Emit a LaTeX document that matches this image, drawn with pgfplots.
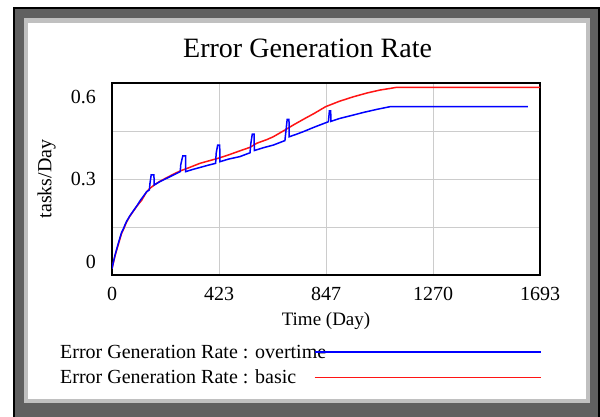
\documentclass[border=0pt]{standalone}
\usepackage{fontspec}
\setmainfont{Liberation Serif}
\usepackage{pgfplots}
\pgfplotsset{compat=1.18}

\definecolor{framedark}{RGB}{96,96,96}
\definecolor{framelight}{RGB}{192,192,192}
\definecolor{vblue}{RGB}{0,0,255}
\definecolor{vred}{RGB}{255,20,20}

% Error Generation Rate, basic run
\pgfplotstableread{
day rate
0 0.02
6 0.04
12 0.06
20 0.082
25 0.095
32 0.114
38 0.13
45 0.142
58 0.166
70 0.183
84 0.199
100 0.217
117 0.233
137 0.26
150 0.271
170 0.283
190 0.293
216 0.304
243 0.315
269 0.325
300 0.334
348 0.349
380 0.356
421 0.365
460 0.375
506 0.388
546 0.399
572 0.4115
612 0.423
638 0.432
684 0.453
720 0.47
757 0.4865
800 0.505
845 0.526
900 0.543
955 0.557
1010 0.569
1060 0.578
1100 0.583
1126 0.5865
1693 0.5865
}\basic

% Error Generation Rate, overtime run
\pgfplotstableread{
day rate
0 0.02
6 0.042
12 0.062
20 0.085
25 0.099
32 0.118
38 0.133
45 0.144
51 0.156
58 0.168
70 0.184
84 0.2
100 0.218
111 0.232
137 0.26
148 0.266
150 0.285
155 0.3125
166 0.3125
166.5 0.281
190 0.292
216 0.302
243 0.3125
270 0.323
272 0.345
280 0.372
291 0.372
291.5 0.323
320 0.330
348 0.336
380 0.343
410 0.349
412 0.38
418 0.406
426 0.406
427 0.354
460 0.362
506 0.370
546 0.382
549 0.41
555 0.4406
562 0.4406
563 0.389
600 0.398
638 0.406
684 0.42
688 0.45
693 0.4865
700 0.4865
701 0.432
730 0.44
757 0.448
800 0.462
856 0.479
860 0.513
865 0.513
866 0.48
900 0.489
955 0.500
1000 0.509
1050 0.518
1100 0.526
1645 0.526
}\overtime

\begin{document}
\begin{tikzpicture}
\path[use as bounding box] (0pt,0pt) rectangle (600pt,417pt);
% window frame
\fill[black] (12.5pt,0pt) rectangle (600pt,410.3pt);
\fill[framedark] (15pt,0pt) rectangle (598pt,408pt);
\fill[framelight] (24pt,13.7pt) rectangle (590pt,398.7pt);
\fill[white] (27.5pt,18pt) rectangle (586pt,393.7pt);

\begin{axis}[
    at={(112pt,142pt)}, anchor=south west,
    scale only axis,
    width=428pt, height=192pt,
    xmin=0, xmax=1693,
    ymin=0, ymax=0.6,
    xtick={0,423.25,846.5,1269.75,1693},
    xticklabels={0,423,847,1270,1693},
    ytick={0,0.15,0.3,0.45,0.6},
    yticklabels={,,0.3,,},
    extra y ticks={0.041,0.556},
    extra y tick labels={0,0.6},
    extra y tick style={grid=none},
    major tick length=0pt,
    grid=major,
    major grid style={gray!40, line width=0.8pt},
    axis line style={line width=1.6pt},
    /pgf/number format/assume math mode=true,
    xticklabel style={anchor=center, yshift=-19pt, font=\fontsize{20}{24}\selectfont},
    yticklabel style={anchor=east, inner sep=0pt, xshift=-16pt, font=\fontsize{20}{24}\selectfont},
    title={Error Generation Rate},
    title style={at={(axis description cs:0.457,1.099)}, anchor=base, font=\fontsize{28}{32}\selectfont},
    xlabel={Time (Day)},
    xlabel style={at={(axis description cs:0.5,-0.238)}, anchor=center, font=\fontsize{19}{22}\selectfont},
    ylabel={tasks/Day},
    ylabel style={at={(axis description cs:-0.1526,0.5)}, anchor=center, font=\fontsize{20}{24}\selectfont},
    legend plot pos=right,
    legend cell align=left,
    reverse legend,
    legend style={at={(axis description cs:-0.1215,-0.3627)}, anchor=north west,
        draw=none, fill=none, inner sep=0pt, column sep=-12.4pt, row sep=10pt,
        font=\fontsize{20}{24}\selectfont,
        nodes={inner sep=0pt}},
]
\addplot[vred, line width=1.5pt,
    legend image code/.code={\draw (0pt,0pt) -- (226pt,0pt);}]
    table[x=day, y=rate] {\basic};
\addlegendentry{Error Generation Rate : basic}
\addplot[vblue, line width=1.5pt,
    legend image code/.code={\path (0pt,0pt) -- (226pt,0pt);
        \draw (28.6pt,0pt) -- (226pt,0pt);}]
    table[x=day, y=rate] {\overtime};
\addlegendentry{Error Generation Rate : overtime}
\end{axis}
\end{tikzpicture}
\end{document}
